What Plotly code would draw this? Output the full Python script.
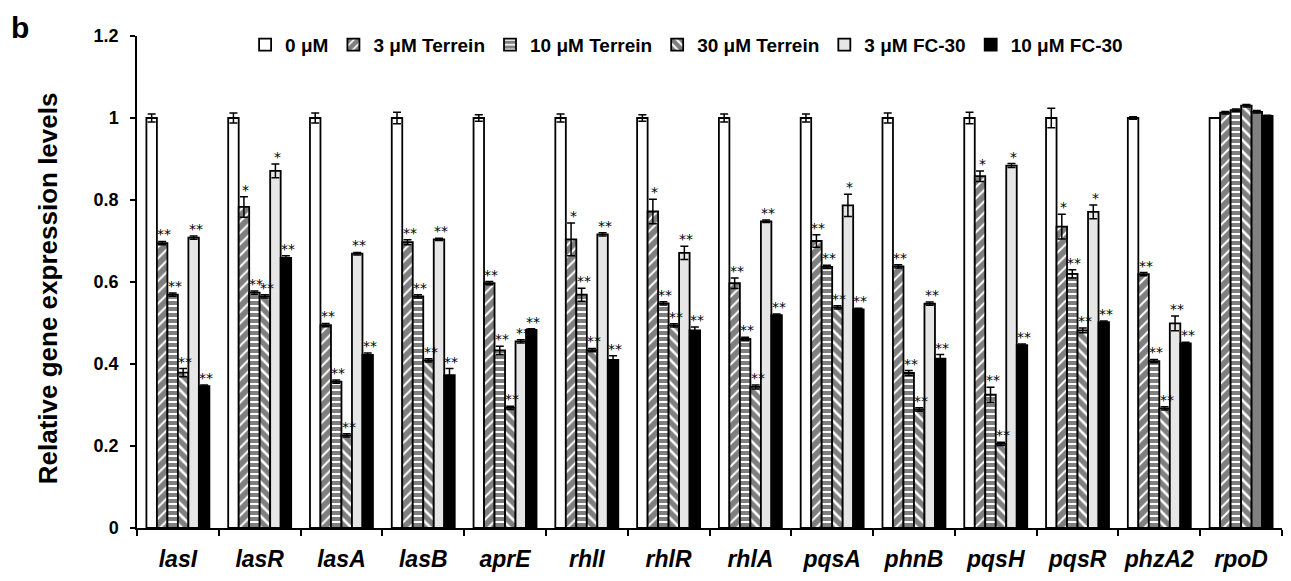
import plotly.graph_objects as go

# Genes on the x axis
genes = ["lasI", "lasR", "lasA", "lasB", "aprE", "rhlI", "rhlR", "rhlA",
         "pqsA", "phnB", "pqsH", "pqsR", "phzA2", "rpoD"]

# Relative expression (mean) and error per treatment
ctrl = [1.00, 1.00, 1.00, 1.00, 1.00, 1.00, 1.00, 1.00, 1.00, 1.00, 1.00, 1.00, 1.00, 1.00]
ctrl_err = [0.010, 0.012, 0.012, 0.014, 0.008, 0.010, 0.008, 0.010, 0.010, 0.012, 0.014, 0.024, 0.003, 0.0]

t3 = [0.695, 0.783, 0.495, 0.697, 0.597, 0.704, 0.772, 0.597, 0.700, 0.638, 0.858, 0.735, 0.619, 1.013]
t3_err = [0.004, 0.025, 0.004, 0.006, 0.004, 0.040, 0.030, 0.013, 0.015, 0.004, 0.013, 0.030, 0.004, 0.003]

t10 = [0.569, 0.574, 0.357, 0.565, 0.433, 0.569, 0.548, 0.461, 0.637, 0.378, 0.325, 0.620, 0.407, 1.019]
t10_err = [0.004, 0.004, 0.004, 0.004, 0.010, 0.016, 0.004, 0.004, 0.004, 0.006, 0.018, 0.010, 0.004, 0.003]

t30 = [0.379, 0.565, 0.226, 0.409, 0.293, 0.434, 0.494, 0.344, 0.538, 0.289, 0.205, 0.482, 0.292, 1.030]
t30_err = [0.010, 0.004, 0.004, 0.004, 0.004, 0.004, 0.004, 0.005, 0.004, 0.004, 0.004, 0.006, 0.004, 0.003]

fc3 = [0.708, 0.871, 0.669, 0.704, 0.455, 0.716, 0.671, 0.748, 0.787, 0.547, 0.884, 0.771, 0.499, 1.015]
fc3_err = [0.004, 0.017, 0.003, 0.003, 0.004, 0.004, 0.016, 0.003, 0.027, 0.004, 0.005, 0.017, 0.018, 0.003]

fc10 = [0.346, 0.659, 0.422, 0.373, 0.483, 0.410, 0.482, 0.519, 0.533, 0.413, 0.446, 0.502, 0.450, 1.005]
fc10_err = [0.003, 0.005, 0.005, 0.016, 0.003, 0.010, 0.008, 0.003, 0.003, 0.010, 0.003, 0.003, 0.003, 0.002]

# Significance marks versus the 0 µM control
ctrl_sig = [""] * 14
t3_sig = ["**", "*", "**", "**", "**", "*", "*", "**", "**", "**", "*", "*", "**", ""]
t10_sig = ["**", "**", "**", "**", "**", "**", "**", "**", "**", "**", "**", "**", "**", ""]
t30_sig = ["**", "**", "**", "**", "**", "**", "**", "**", "**", "**", "**", "**", "**", ""]
fc3_sig = ["**", "*", "**", "**", "**", "**", "**", "**", "*", "**", "*", "*", "**", ""]
fc10_sig = ["**", "**", "**", "**", "**", "**", "**", "**", "**", "**", "**", "**", "**", ""]

series = [
    ("0 μM", ctrl, ctrl_err, ctrl_sig, dict(color="white")),
    ("3 μM Terrein", t3, t3_err, t3_sig,
     dict(color="white", pattern=dict(shape="/", fgcolor="black", bgcolor="white",
                                      size=8, solidity=0.75))),
    ("10 μM Terrein", t10, t10_err, t10_sig,
     dict(color="white", pattern=dict(shape="-", fgcolor="black", bgcolor="white",
                                      size=6, solidity=0.66))),
    ("30 μM Terrein", t30, t30_err, t30_sig,
     dict(color="white", pattern=dict(shape="\\", fgcolor="black", bgcolor="white",
                                      size=8, solidity=0.68))),
    ("3 μM FC-30", fc3, fc3_err, fc3_sig,
     dict(color=["#e6e6e6"] * 13 + ["#808080"])),
    ("10 μM FC-30", fc10, fc10_err, fc10_sig, dict(color="black")),
]

FONT = "Liberation Sans, Arial, sans-serif"
BARGAP = 0.23
n_series = len(series)
bar_w = (1 - BARGAP) / n_series

fig = go.Figure()
annotations = []
for k, (name, vals, errs, sigs, mk) in enumerate(series):
    marker = dict(mk)
    marker["line"] = dict(color="black", width=1.8)
    fig.add_trace(go.Bar(
        name=name, x=genes, y=vals,
        marker=marker,
        error_y=dict(type="data", array=errs, visible=True,
                     color="black", thickness=1.5, width=4),
    ))
    offset = -(1 - BARGAP) / 2 + (k + 0.5) * bar_w
    for i, (v, e, s) in enumerate(zip(vals, errs, sigs)):
        if s:
            annotations.append(dict(
                x=i + offset, y=v + e, xref="x", yref="y", text=s,
                showarrow=False, yanchor="bottom", xanchor="center",
                xshift=2, yshift=-3,
                font=dict(family="DejaVu Sans, sans-serif", size=14, color="#000000"),
            ))

# Axis title and panel letter
annotations.append(dict(
    x=-0.077, y=0.487, xref="paper", yref="paper", textangle=-90,
    text="Relative gene expression levels", showarrow=False,
    xanchor="center", yanchor="middle",
    font=dict(family=FONT, size=26, color="black", weight="bold"),
))
annotations.append(dict(
    x=-0.112, y=1.055, xref="paper", yref="paper", text="b", showarrow=False,
    xanchor="left", yanchor="top",
    font=dict(family=FONT, size=30, color="black", weight="bold"),
))

fig.update_layout(
    width=1291, height=581,
    margin=dict(l=137, r=9, t=36, b=44),
    paper_bgcolor="white", plot_bgcolor="white",
    barmode="group", bargap=BARGAP, bargroupgap=0,
    font=dict(family=FONT, color="black"),
    showlegend=True,
    legend=dict(orientation="h", x=0.48, xanchor="center", y=0.982, yanchor="middle",
                font=dict(family=FONT, size=19, color="black", weight="bold"),
                itemwidth=30, tracegroupgap=0, bgcolor="rgba(0,0,0,0)"),
    annotations=annotations,
)
fig.update_xaxes(
    type="category", tickson="boundaries", ticks="outside", ticklen=6,
    tickwidth=1.5, tickcolor="black", showline=True, linecolor="black", linewidth=1.5,
    showgrid=False, ticklabelstandoff=10,
    tickfont=dict(family=FONT, size=23, color="black", weight="bold", style="italic"),
)
fig.update_yaxes(
    range=[0, 1.2], dtick=0.2, ticks="outside", ticklen=5, tickwidth=1.5,
    tickcolor="black", showline=True, linecolor="black", linewidth=1.5,
    showgrid=False, zeroline=False, ticklabelstandoff=8,
    tickfont=dict(family=FONT, size=18, color="black", weight="bold"),
)

fig.write_html("out.html")
